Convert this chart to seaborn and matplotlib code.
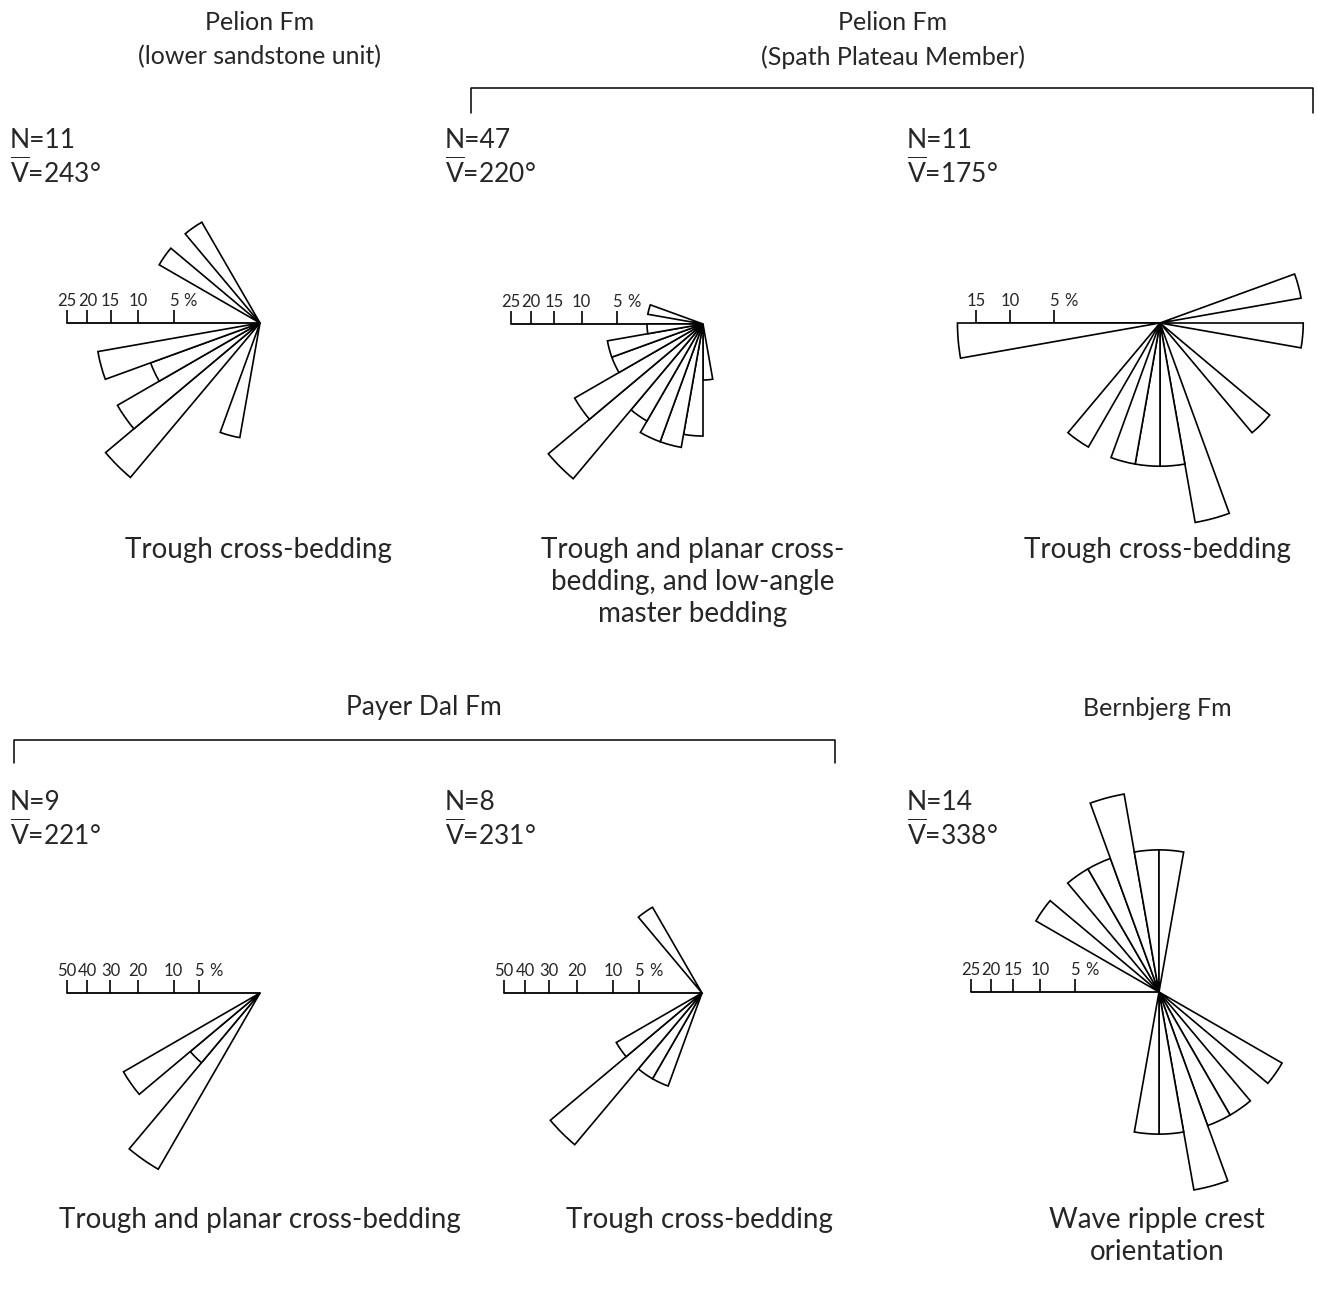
import numpy as np
import matplotlib
matplotlib.use("Agg")
import matplotlib.pyplot as plt
import seaborn as sns

# palaeocurrent data: start bearing of each 10 degree class and number of readings
p1_bins = [190, 220, 230, 240, 250, 300, 320]
p1_counts = [1, 3, 2, 1, 2, 1, 1]
p1_n, p1_mean = 11, 243

p2_bins = [170, 180, 190, 200, 210, 220, 230, 240, 250, 260, 280]
p2_counts = [1, 4, 5, 5, 4, 13, 7, 3, 3, 1, 1]
p2_n, p2_mean = 47, 220

p3_bins = [70, 90, 130, 160, 170, 180, 190, 210, 260]
p3_counts = [1, 1, 1, 2, 1, 1, 1, 1, 2]
p3_n, p3_mean = 11, 175

p4_bins = [210, 220, 230]
p4_counts = [5, 1, 3]
p4_n, p4_mean = 9, 221

p5_bins = [200, 210, 220, 230, 320]
p5_counts = [1, 1, 4, 1, 1]
p5_n, p5_mean = 8, 231

# wave ripple crests are axial: each class is plotted in both directions
p6_bins = [300, 320, 330, 340, 350, 0]
p6_counts = [2, 2, 2, 4, 2, 2]
p6_n, p6_mean = 14, 338

scale_ticks_a = [5, 10, 15, 20, 25]
scale_ticks_b = [5, 10, 15]
scale_ticks_c = [5, 10, 20, 30, 40, 50]

sns.set_theme(style="white")
plt.rcParams["font.family"] = ["Lato", "DejaVu Sans"]
plt.rcParams["mathtext.fontset"] = "custom"
plt.rcParams["mathtext.rm"] = "Lato"
plt.rcParams["mathtext.it"] = "Lato:italic"

W, H = 1317, 1294
fig = plt.figure(figsize=(W / 100, H / 100), dpi=100)
fig.patch.set_facecolor("white")

# overlay axes in pixel units for headings, brackets and captions
ov = fig.add_axes([0, 0, 1, 1])
ov.set_xlim(0, W)
ov.set_ylim(H, 0)
ov.axis("off")

R = 240  # half size of each rose axes, in pixels


def rose(cx, cy, k, bins, counts, n, ticks, axial=False):
    rect = [(cx - R) / W, 1 - (cy + R) / H, 2 * R / W, 2 * R / H]
    ax = fig.add_axes(rect, projection="polar")
    ax.set_theta_zero_location("N")
    ax.set_theta_direction(-1)
    ax.set_rscale("function", functions=(np.sqrt, np.square))
    ax.set_rlim(0, (R / k) ** 2)
    ax.axis("off")
    ax.patch.set_alpha(0)

    bins = np.asarray(bins, dtype=float)
    pct = np.asarray(counts) / n * 100
    if axial:
        bins = np.concatenate([bins, (bins + 180) % 360])
        pct = np.concatenate([pct, pct])
    theta = np.deg2rad(bins + 5)

    # scale bar pointing west
    tw = np.deg2rad(270)
    ax.plot([tw, tw], [0, max(ticks)], color="black", lw=1.3, clip_on=False, zorder=1)
    ax.plot(np.full(len(ticks), tw), ticks, ls="none", marker=2, ms=9.5, mew=1.2,
            color="black", clip_on=False, zorder=1)
    for t in ticks:
        ax.annotate(str(t), (tw, t), xytext=(0, 12), textcoords="offset points",
                    ha="center", va="baseline", fontsize=12)
    ax.annotate("%", (tw, 5), xytext=(12, 12), textcoords="offset points",
                ha="center", va="baseline", fontsize=12)

    ax.bar(theta, pct, width=np.deg2rad(10), bottom=0, facecolor="white",
           edgecolor="black", linewidth=1.2, clip_on=False, zorder=2)
    return ax


rose(260, 323, 38.6, p1_bins, p1_counts, p1_n, scale_ticks_a)
rose(703, 324, 38.4, p2_bins, p2_counts, p2_n, scale_ticks_a)
rose(1160, 323, 47.5, p3_bins, p3_counts, p3_n, scale_ticks_b)
rose(260, 993, 27.3, p4_bins, p4_counts, p4_n, scale_ticks_c)
rose(702, 993, 28.0, p5_bins, p5_counts, p5_n, scale_ticks_c)
rose(1159, 992, 37.6, p6_bins, p6_counts, p6_n, scale_ticks_a, axial=True)

head = 18
cap = 20
ov.text(260, 22, "Pelion Fm", ha="center", va="center", fontsize=head)
ov.text(260, 57, "(lower sandstone unit)", ha="center", va="center", fontsize=head)
ov.text(893, 22, "Pelion Fm", ha="center", va="center", fontsize=head)
ov.text(893, 57, "(Spath Plateau Member)", ha="center", va="center", fontsize=head)
ov.text(424, 708, "Payer Dal Fm", ha="center", va="center", fontsize=head + 1)
ov.text(1157, 708, "Bernbjerg Fm", ha="center", va="center", fontsize=head)

ov.plot([471, 471, 1313, 1313], [113, 88, 88, 113], color="black", lw=1.1)
ov.plot([14, 14, 835, 835], [763, 740, 740, 763], color="black", lw=1.1)

stats = [(10, 140, p1_n, p1_mean), (445, 140, p2_n, p2_mean), (907, 140, p3_n, p3_mean),
         (10, 802, p4_n, p4_mean), (445, 802, p5_n, p5_mean), (907, 802, p6_n, p6_mean)]
for x, y, n, m in stats:
    ov.text(x, y, f"N={n}", ha="left", va="center", fontsize=19)
    ov.text(x, y + 32, r"$\overline{\mathrm{V}}$" + f"={m}°", ha="left", va="center", fontsize=19)

ov.text(258, 550, "Trough cross-bedding", ha="center", va="center", fontsize=cap)
ov.text(693, 582, "Trough and planar cross-\nbedding, and low-angle\nmaster bedding",
        ha="center", va="center", fontsize=cap, linespacing=1.3)
ov.text(1157, 550, "Trough cross-bedding", ha="center", va="center", fontsize=cap)
ov.text(260, 1220, "Trough and planar cross-bedding", ha="center", va="center", fontsize=cap)
ov.text(699, 1220, "Trough cross-bedding", ha="center", va="center", fontsize=cap)
ov.text(1157, 1236, "Wave ripple crest\norientation", ha="center", va="center",
        fontsize=cap, linespacing=1.3)

fig.savefig("out.png", dpi=100, facecolor="white")
